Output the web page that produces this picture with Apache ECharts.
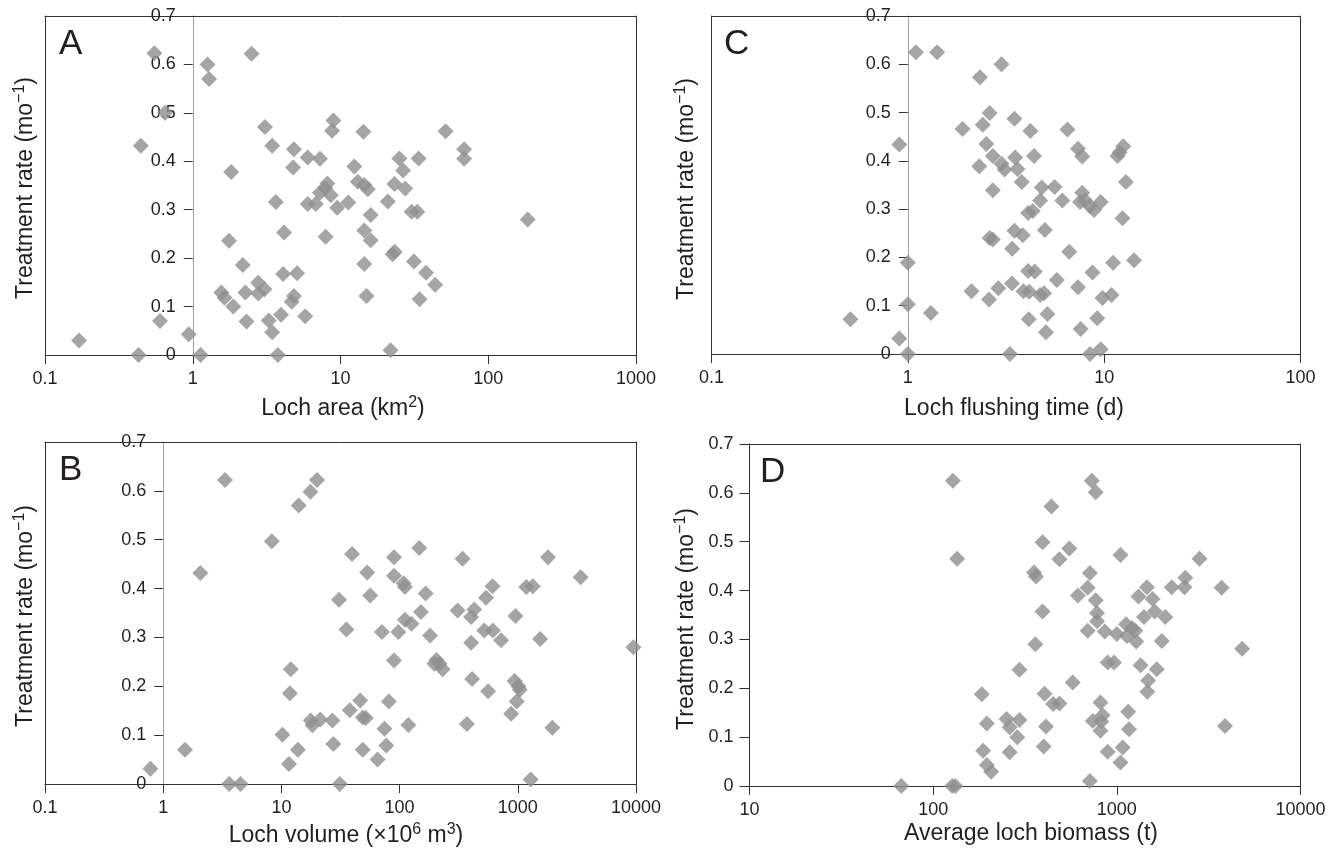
<!DOCTYPE html>
<html>
<head>
<meta charset="utf-8">
<script src="https://cdn.jsdelivr.net/npm/echarts@6/dist/echarts.min.js"></script>
<style>
html,body{margin:0;padding:0;background:#fff;}
#c{width:1339px;height:850px;}
</style>
</head>
<body>
<div id="c"></div>
<script>
// ---- Data ----
const rateTicks = [0, 0.1, 0.2, 0.3, 0.4, 0.5, 0.6, 0.7];

const areaX = [0.17,0.43,0.94,1.13,0.60,0.445,0.55,0.65,1.26,1.29,2.5,1.82,1.76,1.56,1.64,1.88,2.18,2.27,2.31,2.77,2.78,3.06,3.08,3.45,3.65,3.27,3.45,3.77,3.96,4.09,4.15,4.84,4.78,5.08,4.84,4.68,5.77,6.0,6.0,6.8,7.26,7.26,7.87,8.15,8.6,7.93,8.95,8.77,9.5,11.3,12.4,13.1,14.3,14.5,15.3,14.5,16.0,16.0,14.5,15.0,20.9,23.2,25.0,26.5,27.4,23.3,22.5,21.8,30.3,33.1,31.4,33.8,34.3,37.9,43.7,51.4,68.7,68.7,185];
const areaY = [0.03,0,0.043,0,0.07,0.432,0.623,0.5,0.6,0.57,0.622,0.378,0.236,0.129,0.118,0.10,0.186,0.129,0.069,0.149,0.127,0.136,0.471,0.432,0.316,0.071,0.047,0,0.083,0.167,0.253,0.425,0.387,0.169,0.122,0.11,0.08,0.408,0.312,0.312,0.405,0.335,0.345,0.354,0.33,0.244,0.484,0.463,0.304,0.315,0.389,0.358,0.461,0.351,0.342,0.257,0.289,0.237,0.188,0.122,0.317,0.353,0.406,0.381,0.344,0.213,0.208,0.01,0.296,0.296,0.193,0.406,0.115,0.17,0.145,0.462,0.425,0.405,0.28];

const flushX = [0.51,0.905,0.905,1.0,1.0,1.0,1.1,1.41,1.31,1.9,2.11,2.33,2.41,2.31,2.51,2.61,2.71,2.71,2.61,2.71,2.59,2.89,3.0,3.0,3.11,3.31,3.39,3.4,3.49,3.52,3.62,3.49,3.8,3.85,3.88,4.1,4.15,4.13,4.1,4.21,4.33,4.39,4.43,4.72,4.81,4.72,4.94,4.99,5.14,5.05,5.59,5.74,6.12,6.5,6.64,7.36,7.73,7.73,7.53,7.36,7.59,8.0,8.47,8.88,8.72,8.47,9.22,9.6,9.6,9.8,10.9,11.1,11.7,12.0,12.5,12.4,12.9,14.2];
const flushY = [0.072,0.434,0.032,0,0.189,0.103,0.625,0.625,0.085,0.466,0.13,0.573,0.475,0.389,0.435,0.499,0.41,0.339,0.24,0.237,0.113,0.136,0.6,0.394,0.382,0,0.146,0.218,0.487,0.407,0.383,0.255,0.356,0.246,0.13,0.292,0.129,0.072,0.172,0.462,0.296,0.41,0.171,0.318,0.345,0.122,0.126,0.257,0.083,0.045,0.346,0.153,0.318,0.465,0.212,0.425,0.409,0.334,0.315,0.138,0.052,0.318,0.306,0.298,0.169,0,0.074,0.01,0.315,0.116,0.122,0.189,0.41,0.418,0.43,0.281,0.356,0.194];

const volX = [0.78,1.53,2.06,3.33,3.62,4.5,8.3,10.2,11.6,11.8,12.0,14.0,13.8,17.6,20,17.7,18.3,21.3,27,27.5,30.7,31.2,35.5,37.9,39.6,46.4,48.8,51.8,48.8,53.2,56.4,65.1,70.8,74.5,77.1,81.1,89.7,89.7,89.7,97.7,108,111,111,118.6,126,146.6,151.5,166,181,197,205,218,231,310,341,371,403,428,403,411,520,538,561,611,615,722,878,939,955,1014,1040,979,1180,1340,1285,1545,1800,1960,3400,9500];
const volY = [0.031,0.07,0.432,0.622,0,0,0.497,0.101,0.041,0.186,0.235,0.57,0.07,0.598,0.622,0.13,0.12,0.132,0.13,0.082,0.377,0,0.316,0.151,0.471,0.171,0.136,0.135,0.07,0.433,0.386,0.05,0.311,0.113,0.079,0.169,0.464,0.426,0.253,0.311,0.411,0.403,0.336,0.121,0.328,0.483,0.352,0.39,0.304,0.246,0.254,0.246,0.235,0.355,0.461,0.123,0.342,0.357,0.289,0.215,0.314,0.381,0.19,0.405,0.314,0.294,0.144,0.211,0.344,0.2,0.193,0.169,0.403,0.405,0.009,0.297,0.464,0.115,0.423,0.28];

const bioX = [67,127,132,128,135,184,187,196,207,196,251,261,261,287,295,295,354,363,360,394,394,404,411,400,440,450,487,487,551,575,614,694,713,694,713,731,767,767,780,780,740,814,823,836,814,860,892,966,892,1000,1047,1076,1047,1123,1135,1153,1165,1210,1262,1276,1312,1346,1405,1459,1482,1466,1565,1607,1649,1758,1836,1990,2335,2360,2818,3720,3880,4810];
const bioY = [0,0,0,0.625,0.465,0.188,0.072,0.043,0.029,0.128,0.137,0.12,0.069,0.1,0.135,0.238,0.437,0.429,0.29,0.499,0.357,0.189,0.122,0.081,0.572,0.168,0.169,0.464,0.486,0.212,0.39,0.406,0.436,0.318,0.01,0.625,0.601,0.38,0.354,0.337,0.133,0.113,0.132,0.145,0.171,0.316,0.253,0.253,0.07,0.311,0.473,0.079,0.048,0.331,0.307,0.152,0.116,0.323,0.318,0.296,0.388,0.247,0.346,0.407,0.216,0.193,0.383,0.357,0.239,0.297,0.346,0.407,0.407,0.426,0.465,0.406,0.123,0.281];

const panelLetters = ['A', 'B', 'C', 'D'];
const yTitle = '{n|Treatment rate (mo}{s|\u22121}{n|)}';
const xTitles = ['{n|Loch area (km}{s|2}{n|)}', '{n|Loch volume (\u00d710}{s|6}{n| m}{s|3}{n|)}', '{n|Loch flushing time (d)}', '{n|Average loch biomass (t)}'];

// ---- Styling / layout ----
const FONT = "'Liberation Sans', Arial, Helvetica, sans-serif";
const TXT = '#231f20';
const FRAME = '#333333';
const MARK = '#8f8f8f';

const panels = [
  {x: areaX, y: areaY, xMin: 0.1, xMax: 1000, yAt: 1, box: {left: 45, top: 16, width: 591, height: 339},
   letter: [59, 44.5], ytitle: [26, 188], xtitle: [343, 409]},
  {x: volX, y: volY, xMin: 0.1, xMax: 10000, yAt: 1, box: {left: 45, top: 442, width: 591, height: 342},
   letter: [59, 470.5], ytitle: [26, 616], xtitle: [346, 836]},
  {x: flushX, y: flushY, xMin: 0.1, xMax: 100, yAt: 1, box: {left: 711.5, top: 16, width: 589, height: 338},
   letter: [724, 44.5], ytitle: [687, 189], xtitle: [1014, 409]},
  {x: bioX, y: bioY, xMin: 10, xMax: 10000, yAt: null, box: {left: 749.5, top: 444, width: 551, height: 342},
   letter: [760, 472.5], ytitle: [687, 619], xtitle: [1031, 834]}
];

function logFmt(v) {
  const r = Math.round(Math.log10(v));
  const t = Math.pow(10, r);
  return r < 0 ? t.toFixed(-r) : String(Math.round(t));
}
function rateFmt(v) { return v === 0 ? '0' : v.toFixed(1); }

const labelStyle = {fontSize: 18, color: TXT, fontFamily: FONT};
const grid = [], xAxis = [], yAxis = [], series = [], graphic = [];
const yMin = rateTicks[0], yMax = rateTicks[rateTicks.length - 1], yStep = rateTicks[1] - rateTicks[0];

const rich = {
  n: {fontSize: 23, fontFamily: FONT, fill: TXT, color: TXT},
  s: {fontSize: 16, fontFamily: FONT, fill: TXT, color: TXT, padding: [0, 0, 13, 0]}
};

panels.forEach((p, i) => {
  const gi = grid.length;
  grid.push(Object.assign({containLabel: false}, p.box));
  const xi = xAxis.length;
  xAxis.push({
    gridIndex: gi, type: 'log', logBase: 10, min: p.xMin, max: p.xMax, position: 'bottom',
    axisLine: {show: true, onZero: false, lineStyle: {color: FRAME, width: 1}},
    axisTick: {show: true, length: 9, lineStyle: {color: FRAME, width: 1}},
    minorTick: {show: false},
    axisLabel: Object.assign({margin: 15, formatter: logFmt}, labelStyle),
    splitLine: {show: false}
  });
  xAxis.push({
    gridIndex: gi, type: 'log', logBase: 10, min: p.xMin, max: p.xMax, position: 'top',
    axisLine: {show: true, onZero: false, lineStyle: {color: FRAME, width: 1}},
    axisTick: {show: false}, axisLabel: {show: false}, splitLine: {show: false}
  });
  const leftLabels = p.yAt === null;
  const yi = yAxis.length;
  yAxis.push({
    gridIndex: gi, type: 'value', min: yMin, max: yMax, interval: yStep, position: 'left',
    axisLine: {show: true, onZero: false, lineStyle: {color: FRAME, width: 1}},
    axisTick: {show: leftLabels, length: 10, lineStyle: {color: FRAME, width: 1}},
    axisLabel: Object.assign({show: leftLabels, margin: 16, formatter: rateFmt}, labelStyle),
    splitLine: {show: false}
  });
  yAxis.push({
    gridIndex: gi, type: 'value', min: yMin, max: yMax, interval: yStep, position: 'right',
    axisLine: {show: true, onZero: false, lineStyle: {color: FRAME, width: 1}},
    axisTick: {show: false}, axisLabel: {show: false}, splitLine: {show: false}
  });
  if (!leftLabels) {
    // a second grid whose left edge sits at x = yAt carries the labelled rate axis
    const frac = (Math.log10(p.yAt) - Math.log10(p.xMin)) / (Math.log10(p.xMax) - Math.log10(p.xMin));
    const yl = p.box.left + p.box.width * frac;
    const g2 = grid.length;
    grid.push({left: yl, top: p.box.top, width: p.box.left + p.box.width - yl, height: p.box.height});
    xAxis.push({gridIndex: g2, type: 'value', show: false, min: 0, max: 1});
    yAxis.push({
      gridIndex: g2, type: 'value', min: yMin, max: yMax, interval: yStep, position: 'left',
      axisLine: {show: true, onZero: false, lineStyle: {color: '#a0a0a0', width: 1}},
      axisTick: {show: true, length: 9, lineStyle: {color: FRAME, width: 1}},
      axisLabel: Object.assign({margin: 17, formatter: rateFmt}, labelStyle),
      splitLine: {show: false}
    });
  }
  series.push({
    type: 'scatter', xAxisIndex: xi, yAxisIndex: yi,
    data: p.x.map((v, k) => [v, p.y[k]]),
    symbol: 'diamond', symbolSize: 16, clip: false, silent: true, z: 5,
    itemStyle: {color: MARK}
  });

  graphic.push({
    type: 'text', x: p.letter[0], y: p.letter[1], silent: true,
    style: {text: panelLetters[i], fontSize: 35, fontFamily: FONT, fill: TXT,
            align: 'left', verticalAlign: 'middle', textAlign: 'left', textVerticalAlign: 'middle'}
  });
  graphic.push({
    type: 'text', x: p.ytitle[0], y: p.ytitle[1], rotation: Math.PI / 2, silent: true,
    style: {text: yTitle, rich: rich,
            align: 'center', verticalAlign: 'middle', textAlign: 'center', textVerticalAlign: 'middle'}
  });
  graphic.push({
    type: 'text', x: p.xtitle[0], y: p.xtitle[1], silent: true,
    style: {text: xTitles[i], rich: rich,
            align: 'center', verticalAlign: 'middle', textAlign: 'center', textVerticalAlign: 'middle'}
  });
});

const chart = echarts.init(document.getElementById('c'), null, {renderer: 'canvas'});
chart.setOption({
  animation: false,
  backgroundColor: '#ffffff',
  grid: grid, xAxis: xAxis, yAxis: yAxis, series: series, graphic: graphic
});
</script>
</body>
</html>
